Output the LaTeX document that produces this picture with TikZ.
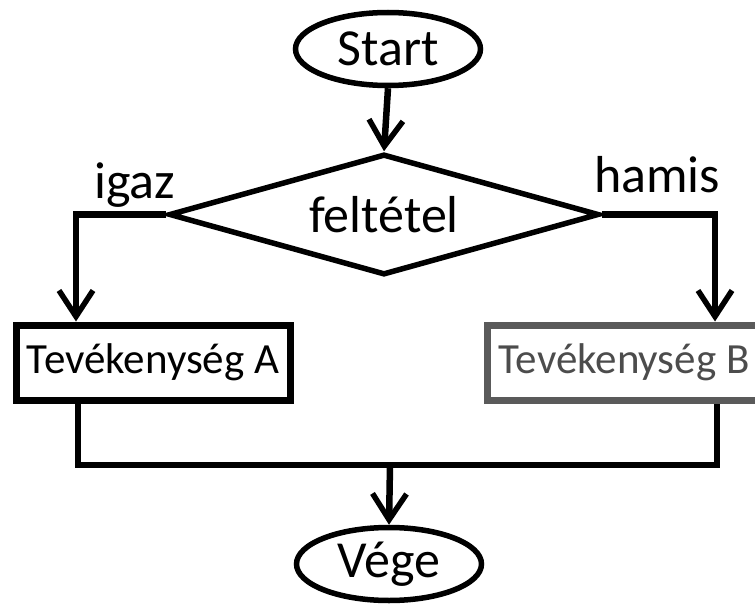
\documentclass[tikz,border=0pt]{standalone}
\usepackage{fontspec}
\setmainfont{Carlito}
\usetikzlibrary{shapes.geometric,arrows.meta}
\definecolor{bgray}{HTML}{5A5A5A}
\begin{document}
\begin{tikzpicture}[x=1pt,y=-1pt,
  lbl/.style={font=\fontsize{52}{60}\selectfont,inner sep=0pt},
  boxfont/.style={font=\fontsize{43}{50}\selectfont},
  term/.style={ellipse,draw,line width=5.5pt,minimum width=185pt,minimum height=73pt,inner sep=0pt,lbl},
  cond/.style={diamond,draw,line width=5.5pt,shape aspect=3.55,minimum width=430pt,minimum height=121pt,inner sep=0pt,lbl},
  act/.style={rectangle,draw,line width=7pt,minimum width=274pt,minimum height=75pt,inner sep=0pt,boxfont},
  conn/.style={line width=6.5pt,line join=miter},
  arr/.style={conn,-{Straight Barb[length=26pt,width=34pt,line width=5.5pt]}}
]
\useasboundingbox (0,0) rectangle (755,607);
\clip (0,0) rectangle (755,607);
\node[term] (start) at (388,49) {Start};
\node[cond] (feltetel) at (384,214.5) {feltétel};
\node[act] (a) at (153,362.5) {Tevékenység A};
\node[act,draw=bgray,text=bgray!85!black] (b) at (624,362.5) {Tevékenység B};
\node[term] (vege) at (389,564) {Vége};
\node[lbl,anchor=base west] (igaz) at (94,198) {igaz};
\node[lbl,anchor=base west] (hamis) at (594,193) {hamis};
\coordinate (join) at (390,465);
\draw[arr] (start.south) -- (feltetel.north);
\draw[arr] (feltetel.west) -| ([xshift=-77pt]a.north);
\draw[arr] (feltetel.east) -| ([xshift=91pt]b.north);
\draw[conn] ([xshift=-75pt]a.south) |- (join) -| ([xshift=93pt]b.south);
\draw[arr] (join) -- (vege.north);
\end{tikzpicture}
\end{document}
